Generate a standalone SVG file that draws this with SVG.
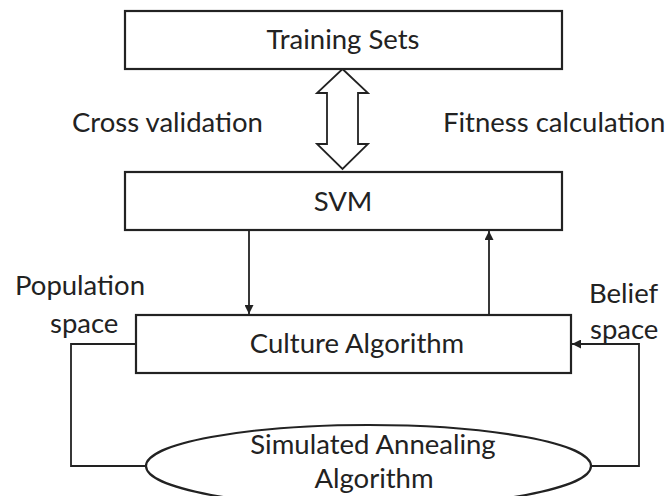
<svg xmlns="http://www.w3.org/2000/svg" width="672" height="496" viewBox="0 0 672 496">
<style>
text{font-family:Lato,"Open Sans",sans-serif;font-size:27.5px;fill:#222}
.box{fill:#fff;stroke:#222;stroke-width:2.2}
.ln{fill:none;stroke:#222;stroke-width:1.8}
</style>
<defs>
<marker id="ah" viewBox="0 0 10 10" refX="10" refY="5" markerWidth="5" markerHeight="5" orient="auto" markerUnits="strokeWidth">
<path d="M0,0 L10,5 L0,10 z" fill="#222"/>
</marker>
</defs>
<rect width="672" height="496" fill="#fff"/>
<g id="connectors">
<path class="ln" stroke-width="2" d="M342.5,69 L368,93 L358,93 L358,144 L368,144 L342.5,169 L317,144 L327,144 L327,93 L317,93 Z"/>
<line class="ln" x1="249" y1="230" x2="249" y2="314" marker-end="url(#ah)"/>
<line class="ln" x1="489" y1="315" x2="489" y2="231" marker-end="url(#ah)"/>
<polyline class="ln" points="136,344 71,344 71,466 146,466"/>
<polyline class="ln" points="591,466 639,466 639,344 572,344" marker-end="url(#ah)"/>
</g>
<g id="training">
<rect class="box" x="125" y="11" width="437" height="58"/>
<text x="343" y="49" text-anchor="middle">Training Sets</text>
</g>
<g id="svm">
<rect class="box" x="125" y="172" width="437" height="58"/>
<text x="343" y="211" text-anchor="middle">SVM</text>
</g>
<g id="culture">
<rect class="box" x="136" y="315" width="435" height="58"/>
<text x="357" y="353" text-anchor="middle">Culture Algorithm</text>
</g>
<g id="sa">
<ellipse class="box" cx="368.5" cy="466" rx="222.5" ry="41"/>
<text x="373" y="454" text-anchor="middle">Simulated Annealing</text>
<text x="374" y="488" text-anchor="middle">Algorithm</text>
</g>
<g id="labels">
<text x="72" y="132">Cross validation</text>
<text x="443" y="132">Fitness calculation</text>
<text x="15" y="295">Population</text>
<text x="50" y="333">space</text>
<text x="589" y="303">Belief</text>
<text x="590" y="339">space</text>
</g>
</svg>
